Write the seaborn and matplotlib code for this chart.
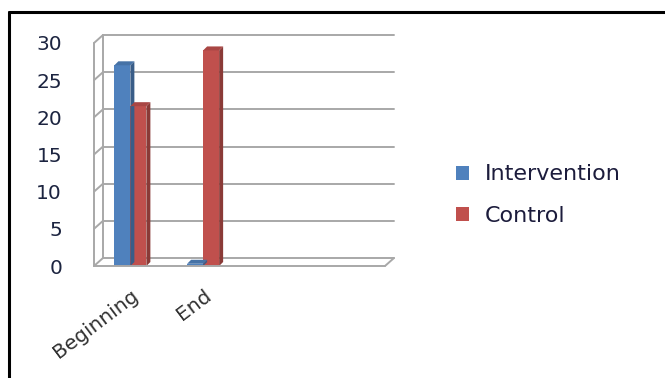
import numpy as np
import pandas as pd
import seaborn as sns
import matplotlib.pyplot as plt
from matplotlib.patches import Polygon
from matplotlib.lines import Line2D
from matplotlib.transforms import IdentityTransform
import matplotlib.colors as mcolors

categories = ["Beginning", "End"]
series = ["Intervention", "Control"]
intervention = [27, 0.3]
control = [21.5, 29]
yticks = [0, 5, 10, 15, 20, 25, 30]
colors = {"Intervention": "#4F81BD", "Control": "#C0504D"}

df = pd.DataFrame({
    "Stage": categories * 2,
    "Group": [series[0]] * len(categories) + [series[1]] * len(categories),
    "Value": intervention + control,
})

sns.set_theme(style="white")
plt.rcParams['font.family'] = ['DejaVu Sans']

W, H = 665, 378
fig = plt.figure(figsize=(W / 100, H / 100), dpi=100)
ax = fig.add_axes([94 / W, 1 - 266 / H, 291 / W, 223 / H])

sns.barplot(data=df, x="Stage", y="Value", hue="Group", palette=colors,
            order=categories, hue_order=series, width=0.44, ax=ax,
            saturation=1, legend=True, edgecolor="none", linewidth=0)

ax.set_xlim(-0.5, 3.5)
ax.set_ylim(0, 30)
ax.set_yticks(yticks)
ax.set_yticklabels([str(v) for v in yticks], fontsize=14.5, color="#1c2440")
ax.tick_params(axis='y', pad=23, length=0)
ax.tick_params(axis='x', pad=14, length=0)
plt.setp(ax.get_xticklabels(), rotation=37, ha='right', rotation_mode='anchor',
         fontsize=14.5, color="#303030")
ax.set_xlabel("")
ax.set_ylabel("")
for s in ax.spines.values():
    s.set_visible(False)
ax.grid(False)

# 3D-ish frame
dx, dy = 9, 8
grid_c = "#A8A8A8"
ident = IdentityTransform()

def disp(x, y):
    return ax.transData.transform((x, y))

x0, x1 = ax.get_xlim()
def add_line(p, q, z=0.5):
    ax.add_line(Line2D([p[0], q[0]], [p[1], q[1]], transform=ident, color=grid_c,
                       lw=1.4, clip_on=False, zorder=z))

for v in yticks:
    P = disp(x0, v)
    Pb = P + np.array([dx, dy])
    Rb = disp(x1, v) + np.array([dx, dy])
    add_line(P, Pb)
    add_line(Pb, Rb)
# left walls
add_line(disp(x0, 0), disp(x0, 30))
add_line(disp(x0, 0) + np.array([dx, dy]), disp(x0, 30) + np.array([dx, dy]))
# floor front
add_line(disp(x0, 0), disp(x1, 0), z=3)
add_line(disp(x1, 0), disp(x1, 0) + np.array([dx, dy]), z=3)

# bar depth faces
d = 4
for p in list(ax.patches):
    bb = p.get_window_extent(fig.canvas.get_renderer())
    if bb.width <= 0:
        continue
    fc = p.get_facecolor()
    dark = tuple(np.array(mcolors.to_rgb(fc)) * 0.72)
    light = tuple(np.array(mcolors.to_rgb(fc)) * 0.88)
    xa, xb, ya, yb = bb.x0, bb.x1, bb.y0, bb.y1
    side = Polygon([(xb, ya), (xb + d, ya + d), (xb + d, yb + d), (xb, yb)],
                   closed=True, transform=ident, facecolor=dark, edgecolor="none",
                   zorder=p.get_zorder(), clip_on=False)
    top = Polygon([(xa, yb), (xa + d, yb + d), (xb + d, yb + d), (xb, yb)],
                  closed=True, transform=ident, facecolor=light, edgecolor="none",
                  zorder=p.get_zorder(), clip_on=False)
    ax.add_patch(side)
    ax.add_patch(top)

# legend
handles, labels = ax.get_legend_handles_labels()
ax.get_legend().remove()
leg = fig.legend(handles, labels, loc="center left",
                 bbox_to_anchor=(436 / W, 1 - 195 / H), frameon=False,
                 fontsize=16, handlelength=0.6, handleheight=0.6,
                 handletextpad=0.7, labelspacing=0.95)
for t in leg.get_texts():
    t.set_color("#1c1c3c")

# outer border (top and left)
fig.add_artist(Line2D([9 / W, 9 / W], [0, 1 - 12 / H], color="black", lw=2.2,
                      transform=fig.transFigure))
fig.add_artist(Line2D([9 / W, 1], [1 - 12 / H, 1 - 12 / H], color="black", lw=2.2,
                      transform=fig.transFigure))

fig.savefig("out.png", dpi=100, facecolor="white")
